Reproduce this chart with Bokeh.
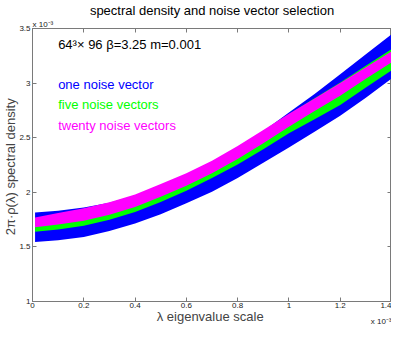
from bokeh.plotting import figure
from bokeh.models import FixedTicker, LinearAxis, Label, Range1d, Title, CustomLabelingPolicy
from bokeh.embed import file_html
from bokeh.resources import INLINE

# eigenvalue scale (units of 1e-3)
lam = [0.01, 0.1, 0.2, 0.3, 0.4, 0.5, 0.6, 0.7, 0.8, 0.9, 1.0, 1.1, 1.2, 1.3, 1.4]

# one noise vector band (units of 1e-3)
one_upper = [1.815, 1.83, 1.86, 1.905, 1.97, 2.065, 2.165, 2.28, 2.41, 2.56, 2.73, 2.90, 3.08, 3.265, 3.447]
one_lower = [1.545, 1.56, 1.59, 1.645, 1.715, 1.80, 1.90, 2.005, 2.13, 2.27, 2.41, 2.555, 2.70, 2.865, 3.04]

# five noise vectors band
five_upper = [1.76, 1.80, 1.845, 1.90, 1.97, 2.065, 2.165, 2.28, 2.41, 2.56, 2.715, 2.862, 3.005, 3.16, 3.31]
five_lower = [1.638, 1.66, 1.693, 1.748, 1.82, 1.912, 2.015, 2.13, 2.255, 2.395, 2.54, 2.67, 2.80, 2.96, 3.115]

# twenty noise vectors band
twenty_upper = [1.77, 1.81, 1.855, 1.91, 1.98, 2.075, 2.175, 2.29, 2.425, 2.57, 2.72, 2.86, 3.00, 3.145, 3.29]
twenty_lower = [1.68, 1.705, 1.74, 1.795, 1.865, 1.96, 2.06, 2.175, 2.305, 2.45, 2.60, 2.745, 2.885, 3.04, 3.19]

x_ticks = [0, 0.2, 0.4, 0.6, 0.8, 1.0, 1.2, 1.4]
x_tick_labels = ["0", "0.2", "0.4", "0.6", "0.8", "1", "1.2", "1.4"]
y_ticks = [1, 1.5, 2, 2.5, 3, 3.5]
y_tick_labels = ["1", "1.5", "2", "2.5", "3", "3.5"]

FONT = "Liberation Sans"
AX = "#7a7a7a"

p = figure(width=391, height=326, x_range=Range1d(0, 1.4), y_range=Range1d(1, 3.5),
           output_backend="svg", toolbar_location=None,
           min_border_left=0, min_border_right=0, min_border_top=0, min_border_bottom=0)

p.title.text = "spectral density and noise vector selection"
p.title.align = "center"
p.title.text_font = FONT
p.title.text_font_size = "13px"
p.title.text_font_style = "normal"
p.title.text_color = "black"
p.title.standoff = 0

p.grid.visible = False
p.outline_line_color = AX
p.background_fill_color = "white"
p.border_fill_color = "white"

hide_all = CustomLabelingPolicy(code="for (const i of indices) { indices.unset(i) } return indices")

def style_axis(ax, ticks, labels, show_labels=True):
    ax.ticker = FixedTicker(ticks=ticks)
    ax.major_label_overrides = {t: l for t, l in zip(ticks, labels)}
    ax.major_tick_in = 4
    ax.major_tick_out = 0
    ax.minor_tick_in = 0
    ax.minor_tick_out = 0
    ax.axis_line_color = AX
    ax.major_tick_line_color = AX
    ax.major_label_text_font = FONT
    ax.major_label_text_color = "#222222"
    if show_labels:
        ax.major_label_text_font_size = "8px"
        ax.major_label_standoff = 2
    else:
        ax.major_label_text_font_size = "0px"
        ax.major_label_standoff = 0
        ax.axis_label_standoff = 0
        ax.major_label_policy = hide_all

style_axis(p.xaxis[0], x_ticks, x_tick_labels)
style_axis(p.yaxis[0], y_ticks, y_tick_labels)
p.xaxis[0].major_label_standoff = 1
p.xaxis[0].axis_label = "\u03bb  eigenvalue scale"
p.xaxis[0].axis_label_text_font = FONT
p.xaxis[0].axis_label_text_font_size = "13px"
p.xaxis[0].axis_label_text_font_style = "normal"
p.xaxis[0].axis_label_standoff = -2
p.yaxis[0].axis_label = "2\u03c0\u00b7\u03c1(\u03bb)  spectral density"
p.yaxis[0].axis_label_text_font = FONT
p.yaxis[0].axis_label_text_font_size = "13px"
p.yaxis[0].axis_label_text_font_style = "normal"
p.yaxis[0].axis_label_standoff = -2

top_ax = LinearAxis()
style_axis(top_ax, x_ticks, x_tick_labels, show_labels=False)
p.add_layout(top_ax, "above")
right_ax = LinearAxis()
style_axis(right_ax, y_ticks, y_tick_labels, show_labels=False)
p.add_layout(right_ax, "right")

# exponent notes
p.add_layout(Title(text="x 10\u207b\u00b3", align="left", text_font=FONT, text_font_size="8px",
                   text_font_style="normal", text_color="#222222", standoff=0), "above")
p.add_layout(Title(text="x 10\u207b\u00b3", align="right", vertical_align="top", text_font=FONT,
                   text_font_size="8px", text_font_style="normal", text_color="#222222",
                   standoff=-20), "below")

# bands
p.varea(x=lam, y1=one_lower, y2=one_upper, fill_color="#0000ff")
p.varea(x=lam, y1=five_lower, y2=five_upper, fill_color="#00ff00")
p.varea(x=lam, y1=twenty_lower, y2=twenty_upper, fill_color="#ff00ff")

def lab(x, y, text, color, size="13px"):
    p.add_layout(Label(x=x, y=y, text=text, text_color=color, text_font=FONT,
                       text_font_size=size, text_baseline="middle"))

lab(0.1, 3.35, "64\u00b3\u00d7 96 \u03b2=3.25  m=0.001", "black")
lab(0.1, 2.99, "one noise vector", "#0000ff")
lab(0.1, 2.80, "five noise vectors", "#00ff00")
lab(0.1, 2.61, "twenty noise vectors", "#ff00ff")

open("out.html", "w").write(file_html(p, INLINE))
